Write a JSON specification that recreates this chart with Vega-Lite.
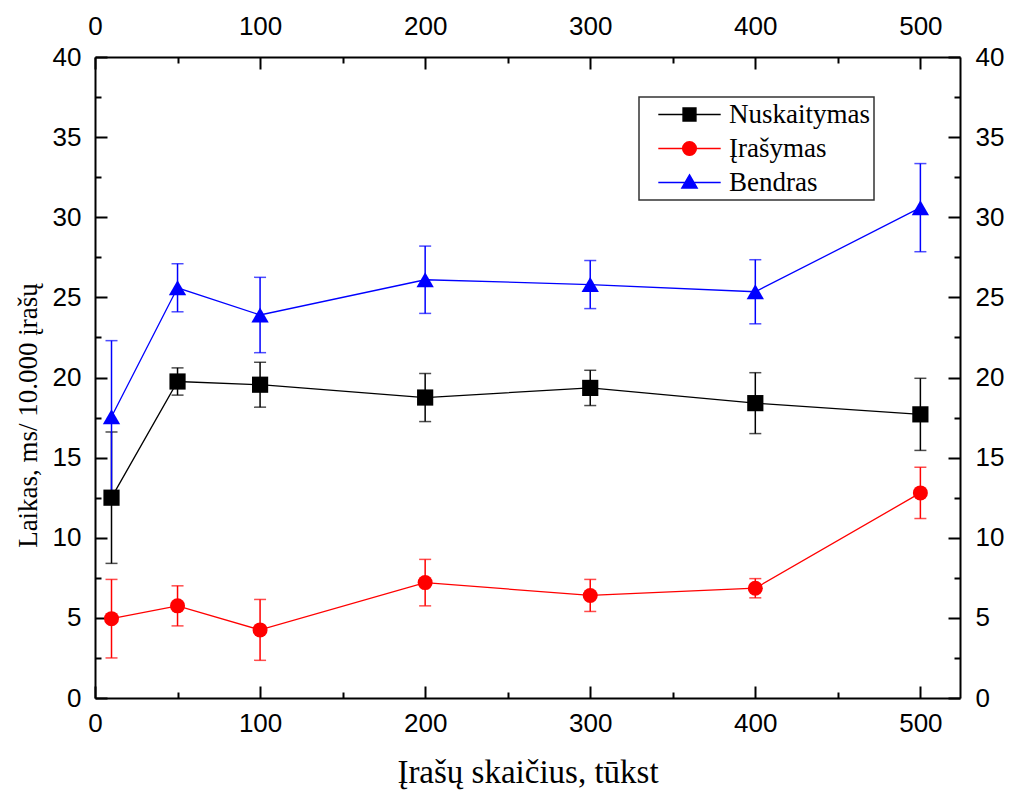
{
  "$schema": "https://vega.github.io/schema/vega-lite/v6.json",
  "width": 865,
  "height": 641,
  "autosize": {"type": "none"},
  "padding": {"left": 95, "top": 57, "right": 49, "bottom": 94},
  "background": "white",
  "config": {
    "view": {"stroke": null},
    "axis": {
      "labelFont": "Liberation Sans",
      "labelFontSize": 26,
      "labelColor": "#000000",
      "titleFont": "Liberation Serif",
      "titleFontWeight": "normal",
      "titleColor": "#000000",
      "tickColor": "#000000",
      "domainColor": "#000000",
      "grid": false,
      "domainWidth": 2,
      "tickWidth": 2,
      "labelFlush": false,
      "labelOverlap": false
    },
    "legend": {
      "labelFont": "Liberation Serif",
      "labelFontSize": 27,
      "labelColor": "#000000"
    }
  },
  "data": {
    "values": [
      {"series": "Nuskaitymas", "x": 10, "y": 12.5, "err": 4.1},
      {"series": "Nuskaitymas", "x": 50, "y": 19.75, "err": 0.85},
      {"series": "Nuskaitymas", "x": 100, "y": 19.55, "err": 1.4},
      {"series": "Nuskaitymas", "x": 200, "y": 18.75, "err": 1.5},
      {"series": "Nuskaitymas", "x": 300, "y": 19.35, "err": 1.1},
      {"series": "Nuskaitymas", "x": 400, "y": 18.4, "err": 1.9},
      {"series": "Nuskaitymas", "x": 500, "y": 17.7, "err": 2.25},
      {"series": "Įrašymas", "x": 10, "y": 4.95, "err": 2.45},
      {"series": "Įrašymas", "x": 50, "y": 5.75, "err": 1.25},
      {"series": "Įrašymas", "x": 100, "y": 4.25, "err": 1.9},
      {"series": "Įrašymas", "x": 200, "y": 7.2, "err": 1.45},
      {"series": "Įrašymas", "x": 300, "y": 6.4, "err": 1.0},
      {"series": "Įrašymas", "x": 400, "y": 6.85, "err": 0.6},
      {"series": "Įrašymas", "x": 500, "y": 12.8, "err": 1.6},
      {"series": "Bendras", "x": 10, "y": 17.55, "err": 4.75},
      {"series": "Bendras", "x": 50, "y": 25.6, "err": 1.5},
      {"series": "Bendras", "x": 100, "y": 23.9, "err": 2.35},
      {"series": "Bendras", "x": 200, "y": 26.1, "err": 2.1},
      {"series": "Bendras", "x": 300, "y": 25.8, "err": 1.5},
      {"series": "Bendras", "x": 400, "y": 25.35, "err": 2.0},
      {"series": "Bendras", "x": 500, "y": 30.6, "err": 2.75}
    ]
  },
  "resolve": {"axis": {"x": "independent", "y": "independent"}},
  "layer": [
    {
      "mark": {"type": "errorbar", "thickness": 1.5, "ticks": {"size": 12, "thickness": 1.5}},
      "encoding": {
        "x": {"field": "x", "type": "quantitative", "scale": {"domain": [0, 524], "nice": false, "zero": false}, "axis": null},
        "y": {"field": "y", "type": "quantitative", "scale": {"domain": [0, 40], "nice": false}, "axis": null},
        "yError": {"field": "err"},
        "color": {"field": "series", "type": "nominal", "scale": {"domain": ["Nuskaitymas", "Įrašymas", "Bendras"], "range": ["#000000", "#ff0000", "#0000ff"]}}
      }
    },
    {
      "mark": {"type": "line", "strokeWidth": 1.3},
      "encoding": {
        "x": {"field": "x", "type": "quantitative", "scale": {"domain": [0, 524], "nice": false, "zero": false},
          "axis": {"orient": "bottom", "values": [0, 100, 200, 300, 400, 500], "format": "d", "tickSize": -12, "labelPadding": 24,
            "title": "Įrašų skaičius, tūkst", "titleFontSize": 33, "titleX": 432.5, "titleY": 84, "titleAlign": "center", "titleBaseline": "alphabetic"}},
        "y": {"field": "y", "type": "quantitative", "scale": {"domain": [0, 40], "nice": false},
          "axis": {"orient": "left", "values": [0, 5, 10, 15, 20, 25, 30, 35, 40], "format": "d", "tickSize": -12, "labelPadding": 26,
            "title": "Laikas, ms/ 10.000 įrašų", "titleFontSize": 27, "titleAngle": -90, "titleX": -59, "titleY": 358, "titleAlign": "center", "titleBaseline": "alphabetic"}},
        "color": {"field": "series", "type": "nominal", "scale": {"domain": ["Nuskaitymas", "Įrašymas", "Bendras"], "range": ["#000000", "#ff0000", "#0000ff"]}}
      }
    },
    {
      "mark": {"type": "point", "filled": true, "opacity": 1},
      "encoding": {
        "x": {"field": "x", "type": "quantitative", "scale": {"domain": [0, 524], "nice": false, "zero": false},
          "axis": {"orient": "top", "values": [0, 100, 200, 300, 400, 500], "format": "d", "tickSize": -12, "labelPadding": 30, "title": null}},
        "y": {"field": "y", "type": "quantitative", "scale": {"domain": [0, 40], "nice": false},
          "axis": {"orient": "right", "values": [0, 5, 10, 15, 20, 25, 30, 35, 40], "format": "d", "tickSize": -12, "labelPadding": 27, "title": null}},
        "color": {"field": "series", "type": "nominal", "scale": {"domain": ["Nuskaitymas", "Įrašymas", "Bendras"], "range": ["#000000", "#ff0000", "#0000ff"]},
          "legend": {
            "title": null, "orient": "none", "legendX": 544, "legendY": 40,
            "strokeColor": "#333333", "fillColor": "white", "padding": 4,
            "rowPadding": 6, "symbolSize": 256, "symbolOffset": 33, "labelOffset": 26,
            "encoding": {
              "legend": {"strokeWidth": {"value": 1.5}},
              "symbols": {
                "shape": {"value": {"expr": "datum.value === 'Nuskaitymas' ? 'M-3.9,0H3.9M-0.8,-0.8H0.8V0.8H-0.8Z' : (datum.value === 'Bendras' ? 'M-3.9,0H3.9M0,-0.95L0.95,0.7H-0.95Z' : 'M-3.9,0H3.9M0.85,0A0.85,0.85 0 1,1 -0.85,0A0.85,0.85 0 1,1 0.85,0Z')"}},
                "stroke": {"value": {"expr": "scale('color', datum.value)"}},
                "fill": {"value": {"expr": "scale('color', datum.value)"}},
                "strokeWidth": {"value": 1.5},
                "size": {"value": 256}
              }
            }
          }},
        "shape": {"field": "series", "type": "nominal", "scale": {"domain": ["Bendras", "Nuskaitymas", "Įrašymas"], "range": ["triangle-up", "square", "circle"]}, "legend": null},
        "size": {"field": "series", "type": "nominal", "scale": {"domain": ["Bendras", "Nuskaitymas", "Įrašymas"], "range": [300, 225, 200]}, "legend": null}
      }
    },
    {
      "mark": {"type": "point", "opacity": 0},
      "encoding": {
        "x": {"field": "x", "type": "quantitative", "scale": {"domain": [0, 524], "nice": false, "zero": false},
          "axis": {"orient": "bottom", "values": [50, 150, 250, 350, 450], "tickSize": -6, "labels": false, "domain": false, "title": null}},
        "y": {"field": "y", "type": "quantitative", "scale": {"domain": [0, 40], "nice": false},
          "axis": {"orient": "left", "values": [2.5, 7.5, 12.5, 17.5, 22.5, 27.5, 32.5, 37.5], "tickSize": -6, "labels": false, "domain": false, "title": null}}
      }
    },
    {
      "mark": {"type": "point", "opacity": 0},
      "encoding": {
        "x": {"field": "x", "type": "quantitative", "scale": {"domain": [0, 524], "nice": false, "zero": false},
          "axis": {"orient": "top", "values": [50, 150, 250, 350, 450], "tickSize": -6, "labels": false, "domain": false, "title": null}},
        "y": {"field": "y", "type": "quantitative", "scale": {"domain": [0, 40], "nice": false},
          "axis": {"orient": "right", "values": [2.5, 7.5, 12.5, 17.5, 22.5, 27.5, 32.5, 37.5], "tickSize": -6, "labels": false, "domain": false, "title": null}}
      }
    }
  ]
}
